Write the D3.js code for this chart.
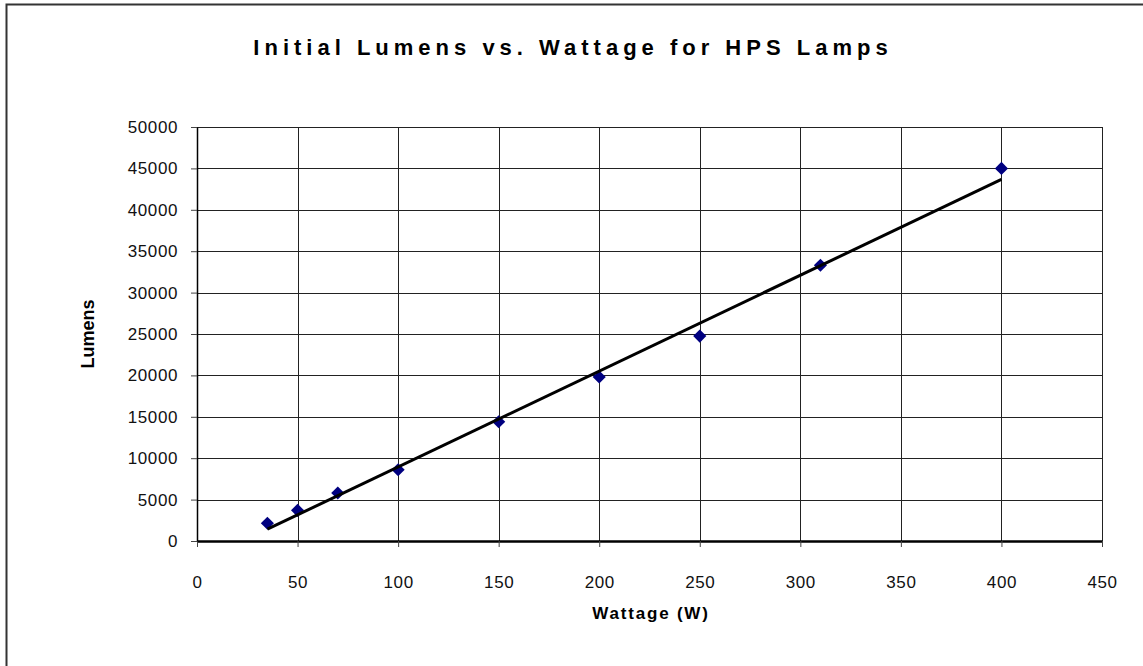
<!DOCTYPE html>
<html>
<head>
<meta charset="utf-8">
<script src="https://cdn.jsdelivr.net/npm/d3@7"></script>
<style>
  html, body { margin: 0; padding: 0; background: #fff; }
  svg { display: block; font-family: Arial, "Liberation Sans", sans-serif; }
</style>
</head>
<body>
<svg id="chart" width="1143" height="666"></svg>
<script>
// lamp wattage and initial lumens
var wattage = [35, 50, 70, 100, 150, 200, 250, 310, 400];
var lumens = [2150, 3700, 5800, 8600, 14400, 19800, 24750, 33300, 45000];
var xTicks = [0, 50, 100, 150, 200, 250, 300, 350, 400, 450];
var yTicks = [0, 5000, 10000, 15000, 20000, 25000, 30000, 35000, 40000, 45000, 50000];

var svg = d3.select('#chart');
var W = 1143, H = 666;
var plot = {left: 197, top: 127, right: 1102, bottom: 541};

// frame of the chart area (only left and top show in the picture)
svg.append('rect')
  .attr('x', 6.5).attr('y', 4.5)
  .attr('width', W + 20).attr('height', H + 20)
  .attr('fill', 'none').attr('stroke', '#333').attr('stroke-width', 2);

var x = d3.scaleLinear().domain([0, 450]).range([plot.left, plot.right]);
var y = d3.scaleLinear().domain([0, 50000]).range([plot.bottom, plot.top]);

// gridlines
var grid = svg.append('g').attr('class', 'grid');
grid.selectAll('line.h').data(yTicks.slice(1)).enter().append('line')
  .attr('x1', plot.left).attr('x2', plot.right)
  .attr('y1', function(d) { return Math.round(y(d)) + 0.5; })
  .attr('y2', function(d) { return Math.round(y(d)) + 0.5; })
  .attr('stroke', '#222').attr('stroke-width', 1);
grid.selectAll('line.v').data(xTicks.slice(1)).enter().append('line')
  .attr('y1', plot.top).attr('y2', plot.bottom)
  .attr('x1', function(d) { return Math.round(x(d)) + 0.5; })
  .attr('x2', function(d) { return Math.round(x(d)) + 0.5; })
  .attr('stroke', '#222').attr('stroke-width', 1);

// axes
var fmt = d3.format('d');
var xAxis = d3.axisBottom(x).tickValues(xTicks).tickFormat(fmt).tickSize(6).tickSizeOuter(0);
var yAxis = d3.axisLeft(y).tickValues(yTicks).tickFormat(fmt).tickSize(6).tickPadding(13).tickSizeOuter(0);

var gx = svg.append('g').attr('transform', 'translate(0,' + plot.bottom + ')').call(xAxis);
var gy = svg.append('g').attr('transform', 'translate(' + plot.left + ',0)').call(yAxis);

gx.select('.domain').attr('stroke', '#000').attr('stroke-width', 2.5);
gy.select('.domain').attr('stroke', '#000').attr('stroke-width', 1.5);
[gx, gy].forEach(function(g) {
  g.selectAll('.tick line').attr('stroke', '#444');
  g.selectAll('.tick text')
    .attr('fill', '#111')
    .style('font-size', '17px')
    .style('letter-spacing', '0.6px');
});
gx.selectAll('.tick text').attr('y', 47).attr('dy', 0);

// linear trendline (least squares)
var mx = d3.mean(wattage), my = d3.mean(lumens);
var sxy = d3.sum(wattage, function(d, i) { return (d - mx) * (lumens[i] - my); });
var sxx = d3.sum(wattage, function(d) { return (d - mx) * (d - mx); });
var slope = sxy / sxx, intercept = my - slope * mx;
var xExt = d3.extent(wattage);
var trend = xExt.map(function(w) { return [w, intercept + slope * w]; });

// markers
var diamond = d3.symbol().type(d3.symbolDiamond2).size(110);
svg.append('g').selectAll('path').data(wattage).enter().append('path')
  .attr('d', diamond)
  .attr('transform', function(d, i) { return 'translate(' + x(d) + ',' + y(lumens[i]) + ')'; })
  .attr('fill', '#000080');

svg.append('path')
  .datum(trend)
  .attr('d', d3.line().x(function(d) { return x(d[0]); }).y(function(d) { return y(d[1]); }))
  .attr('fill', 'none').attr('stroke', '#000').attr('stroke-width', 3);

// titles
svg.append('text')
  .attr('x', 573).attr('y', 55)
  .attr('text-anchor', 'middle')
  .style('font-size', '22px').style('font-weight', 'bold').style('letter-spacing', '5px')
  .text('Initial Lumens vs. Wattage for HPS Lamps');

svg.append('text')
  .attr('x', 651).attr('y', 619)
  .attr('text-anchor', 'middle')
  .style('font-size', '17px').style('font-weight', 'bold').style('letter-spacing', '1.8px')
  .text('Wattage (W)');

svg.append('text')
  .attr('transform', 'translate(94,' + (plot.top + plot.bottom) / 2 + ') rotate(-90)')
  .attr('text-anchor', 'middle')
  .style('font-size', '18px').style('font-weight', 'bold')
  .text('Lumens');
</script>
</body>
</html>
